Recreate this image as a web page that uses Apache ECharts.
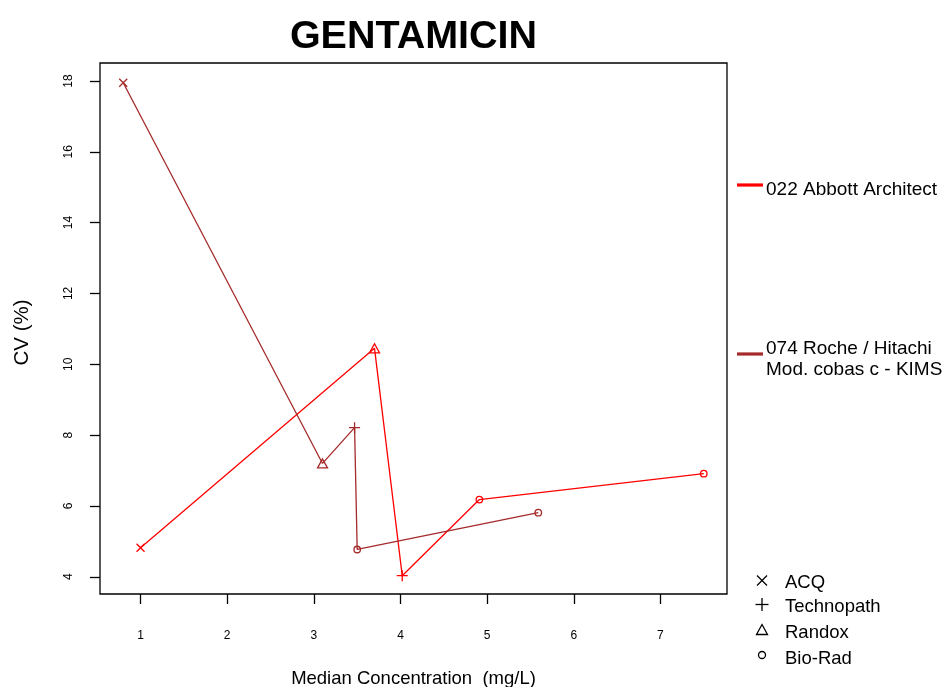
<!DOCTYPE html>
<html>
<head>
<meta charset="utf-8">
<title>GENTAMICIN</title>
<script src="https://cdn.jsdelivr.net/npm/echarts@6/dist/echarts.min.js"></script>
<style>
  html, body { margin: 0; padding: 0; background: #ffffff; }
  #chart { width: 942px; height: 687px; }
</style>
</head>
<body>
<div id="chart"></div>
<script>
// Gentamicin: CV (%) against median concentration, per analyser and control material
const chartTitle = 'GENTAMICIN';
const xAxisName = 'Median Concentration  (mg/L)';
const yAxisName = 'CV (%)';

const xTicks = [1, 2, 3, 4, 5, 6, 7];
const yTicks = [4, 6, 8, 10, 12, 14, 16, 18];

const methodNames = ['022 Abbott Architect', '074 Roche / Hitachi\nMod. cobas c - KIMS'];
const methodColors = ['#ff0000', '#a52a2a'];

const abbottConc = [1.00, 3.70, 4.02, 4.91, 7.50];
const abbottCV = [4.82, 10.45, 4.03, 6.18, 6.91];
const abbottMaterial = ['ACQ', 'Randox', 'Technopath', 'Bio-Rad', 'Bio-Rad'];

const rocheConc = [0.80, 3.10, 3.47, 3.50, 5.59];
const rocheCV = [17.95, 7.20, 8.21, 4.77, 5.81];
const rocheMaterial = ['ACQ', 'Randox', 'Technopath', 'Bio-Rad', 'Bio-Rad'];

const materialNames = ['ACQ', 'Technopath', 'Randox', 'Bio-Rad'];

// open plotting symbols for each control material
const materialSymbol = {
  'ACQ': { symbol: 'path://M0,0L10,10M10,0L0,10', size: 8 },
  'Technopath': { symbol: 'path://M5,0L5,10M0,5L10,5', size: 11 },
  'Randox': { symbol: 'triangle', size: [10, 9] },
  'Bio-Rad': { symbol: 'circle', size: 6.5 }
};

const FONT = '"Liberation Sans", Arial, Helvetica, sans-serif';

function buildSeries(name, xs, ys, materials, color) {
  return {
    name: name,
    type: 'line',
    animation: false,
    lineStyle: { color: color, width: 1.3 },
    itemStyle: { color: 'rgba(0,0,0,0)', borderColor: color, borderWidth: 1.3 },
    emphasis: { disabled: true },
    z: 3,
    data: xs.map(function (x, i) {
      const s = materialSymbol[materials[i]];
      return { value: [x, ys[i]], symbol: s.symbol, symbolSize: s.size };
    })
  };
}

const chart = echarts.init(document.getElementById('chart'), null, { renderer: 'canvas' });

// legend drawn to the right of the plotting frame
const legendGraphics = [];
const methodLineY = [185, 354];
const methodTextY = [190, 348.5];
methodNames.forEach(function (name, i) {
  const lines = name.split('\n').length;
  legendGraphics.push({
    type: 'line',
    shape: { x1: 737, y1: methodLineY[i], x2: 763, y2: methodLineY[i] },
    style: { stroke: methodColors[i], lineWidth: 3.2 }
  });
  legendGraphics.push({
    type: 'text',
    style: {
      x: 766, y: lines > 1 ? methodTextY[i] - 10.85 : methodTextY[i], text: name, fill: '#000',
      fontSize: 19, fontFamily: FONT, lineHeight: 21.7,
      align: 'left', verticalAlign: lines > 1 ? 'top' : 'middle'
    }
  });
});

const matTextY = [583, 607, 633, 658.5];
const symX = 762;
materialNames.forEach(function (name, i) {
  const cy = matTextY[i] - 2.5;
  if (name === 'ACQ') {
    legendGraphics.push({ type: 'line', shape: { x1: symX - 5, y1: cy - 5, x2: symX + 5, y2: cy + 5 }, style: { stroke: '#000', lineWidth: 1.3 } });
    legendGraphics.push({ type: 'line', shape: { x1: symX - 5, y1: cy + 5, x2: symX + 5, y2: cy - 5 }, style: { stroke: '#000', lineWidth: 1.3 } });
  } else if (name === 'Technopath') {
    legendGraphics.push({ type: 'line', shape: { x1: symX - 6.5, y1: cy, x2: symX + 6.5, y2: cy }, style: { stroke: '#000', lineWidth: 1.3 } });
    legendGraphics.push({ type: 'line', shape: { x1: symX, y1: cy - 6.5, x2: symX, y2: cy + 6.5 }, style: { stroke: '#000', lineWidth: 1.3 } });
  } else if (name === 'Randox') {
    legendGraphics.push({ type: 'polygon', shape: { points: [[symX, cy - 6], [symX + 5.5, cy + 4], [symX - 5.5, cy + 4]] }, style: { stroke: '#000', fill: 'none', lineWidth: 1.3 } });
  } else {
    legendGraphics.push({ type: 'circle', shape: { cx: symX, cy: cy - 1, r: 3.5 }, style: { stroke: '#000', fill: 'none', lineWidth: 1.3 } });
  }
  legendGraphics.push({
    type: 'text',
    style: { x: 785, y: matTextY[i], text: name, fill: '#000', fontSize: 18.5, fontFamily: FONT, align: 'left', verticalAlign: 'middle' }
  });
});

const option = {
  animation: false,
  backgroundColor: '#ffffff',
  title: {
    text: chartTitle,
    left: 408.5,
    top: 32,
    textAlign: 'center',
    textVerticalAlign: 'middle',
    textStyle: { fontSize: 39.5, fontWeight: 'bold', fontFamily: FONT, color: '#000' }
  },
  grid: {
    left: 100, top: 63, right: 215, bottom: 93,
    outerBoundsMode: 'none',
    containLabel: false,
    show: true, borderColor: '#000', borderWidth: 1.3, backgroundColor: 'transparent'
  },
  xAxis: {
    type: 'value',
    min: 0.532,
    max: 7.768,
    name: xAxisName,
    nameLocation: 'middle',
    nameGap: 75,
    nameTextStyle: { fontSize: 18.5, fontFamily: FONT, color: '#000' },
    axisLine: { show: false },
    axisTick: { show: true, customValues: xTicks, length: 10, lineStyle: { color: '#000', width: 1.3 } },
    axisLabel: { customValues: xTicks, margin: 36, fontSize: 12, fontFamily: FONT, color: '#000' },
    splitLine: { show: false }
  },
  yAxis: {
    type: 'value',
    min: 3.513,
    max: 18.507,
    name: yAxisName,
    nameLocation: 'middle',
    nameGap: 67,
    nameRotate: 90,
    nameTextStyle: { fontSize: 20.5, fontFamily: FONT, color: '#000', padding: [0, 8, 0, 0] },
    axisLine: { show: false },
    axisTick: { show: true, customValues: yTicks, length: 10, lineStyle: { color: '#000', width: 1.3 } },
    axisLabel: { customValues: yTicks, rotate: 90, margin: 25, fontSize: 12, fontFamily: FONT, color: '#000' },
    splitLine: { show: false }
  },
  graphic: legendGraphics,
  series: [
    buildSeries(methodNames[0], abbottConc, abbottCV, abbottMaterial, methodColors[0]),
    buildSeries(methodNames[1], rocheConc, rocheCV, rocheMaterial, methodColors[1])
  ]
};

chart.setOption(option);
</script>
</body>
</html>
